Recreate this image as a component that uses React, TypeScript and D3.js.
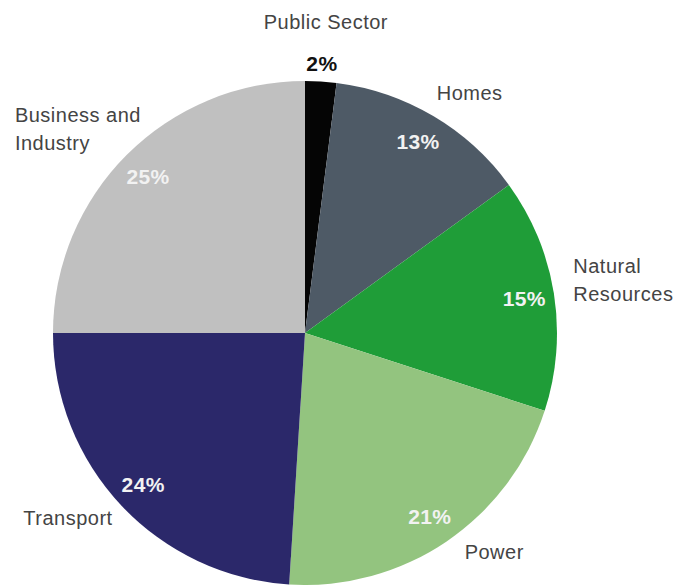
import React from "react";
import * as d3 from "d3";

const categories = ["Public Sector", "Homes", "Natural Resources", "Power", "Transport", "Business and Industry"];
const values = [2, 13, 15, 21, 24, 25];
const labelLines = [["Public Sector"], ["Homes"], ["Natural", "Resources"], ["Power"], ["Transport"], ["Business and", "Industry"]];
const colors = ["#050505", "#4e5a66", "#1f9d38", "#93c47f", "#2b286a", "#c0c0c0"];

// layout (not data)
const W = 676, H = 585;
const CX = 305, CY = 333, R = 252;
const PCT_R = 222, SMALL_PCT_R = 270, NAME_R = 300;
const nameLayout = [
  { anchor: "middle", dx: 2, dy: -5 },
  { anchor: "start", dx: -21, dy: 25 },
  { anchor: "start", dx: -28, dy: -13 },
  { anchor: "start", dx: -9, dy: -22 },
  { anchor: "start", dx: -63, dy: -13 },
  { anchor: "start", dx: -78, dy: 1 },
];

export default function App() {
  const data = categories.map((c, i) => ({ name: c, value: values[i], i }));
  const pie = d3.pie<any>().sort(null).value((d) => d.value).startAngle(0).endAngle(2 * Math.PI);
  const arcs = pie(data);
  const arc = d3.arc<any>().innerRadius(0).outerRadius(R);
  const pctArc = d3.arc<any>().innerRadius(PCT_R).outerRadius(PCT_R);
  const smallArc = d3.arc<any>().innerRadius(SMALL_PCT_R).outerRadius(SMALL_PCT_R);
  const nameArc = d3.arc<any>().innerRadius(NAME_R).outerRadius(NAME_R);
  const font = "'Liberation Sans', Arial, Helvetica, sans-serif";

  return (
    <svg width={W} height={H} style={{ position: "absolute", left: 0, top: 0, background: "#fff" }}>
      <g transform={`translate(${CX},${CY})`}>
        {arcs.map((a) => (
          <path key={a.data.name} d={arc(a) as string} fill={colors[a.data.i]} />
        ))}
        {arcs.map((a) => {
          const small = a.data.value < 5;
          const [x, y] = small ? smallArc.centroid(a) : pctArc.centroid(a);
          return (
            <text
              key={"p" + a.data.name}
              x={x}
              y={y}
              textAnchor="middle"
              dominantBaseline="central"
              fontFamily={font}
              fontWeight="bold"
              fontSize={21}
              letterSpacing={0.4}
              fill={small ? "#111" : "#f2f2f2"}
            >
              {a.data.value}%
            </text>
          );
        })}
        {arcs.map((a) => {
          const [bx, by] = nameArc.centroid(a);
          const L = nameLayout[a.data.i];
          return (
            <text
              key={"n" + a.data.name}
              x={bx + L.dx}
              y={by + L.dy}
              textAnchor={L.anchor as any}
              fontFamily={font}
              fontSize={20}
              letterSpacing={0.5}
              fill="#444"
            >
              {labelLines[a.data.i].map((line, k) => (
                <tspan key={k} x={bx + L.dx} dy={k === 0 ? 0 : 28}>
                  {line}
                </tspan>
              ))}
            </text>
          );
        })}
      </g>
    </svg>
  );
}
